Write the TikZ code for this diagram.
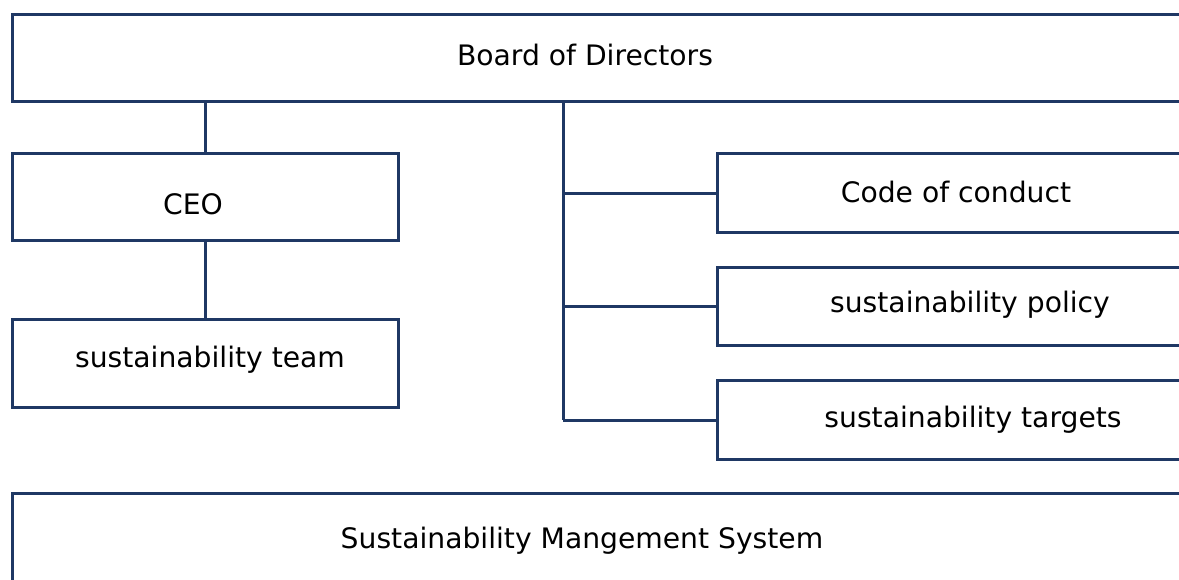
\documentclass[tikz,border=0pt]{standalone}
\usepackage{fontspec}
\setmainfont{DejaVu Sans}
\definecolor{navy}{RGB}{31,56,100}
\begin{document}
\begin{tikzpicture}[x=1pt,y=-1pt,
  box/.style={draw=navy,line width=3pt,rectangle,inner sep=0pt,anchor=north west},
  lbl/.style={anchor=base,inner sep=0pt,font=\fontsize{28.2}{32}\selectfont,text=black},
  conn/.style={draw=navy,line width=3pt}]
\useasboundingbox (0,0) rectangle (1179,579);
\clip (0,0) rectangle (1179,579);
% boxes
\node[box,minimum width=1250pt,minimum height=87pt] (board) at (11,13) {};
\node[box,minimum width=386pt,minimum height=87pt] (ceo) at (11,152) {};
\node[box,minimum width=386pt,minimum height=88pt] (team) at (11,318) {};
\node[box,minimum width=600pt,minimum height=79pt] (code) at (716,152) {};
\node[box,minimum width=600pt,minimum height=78pt] (policy) at (716,266) {};
\node[box,minimum width=600pt,minimum height=79pt] (targets) at (716,379) {};
\node[box,minimum width=1250pt,minimum height=120pt] (sms) at (11,492) {};
% labels
\node[lbl] (tboard) at (585,65) {Board of Directors};
\node[lbl] (tceo) at (193,214) {CEO};
\node[lbl] (tteam) at (210,367) {sustainability team};
\node[lbl] (tcode) at (956,202) {Code of conduct};
\node[lbl] (tpolicy) at (970,312) {sustainability policy};
\node[lbl] (ttargets) at (973,427) {sustainability targets};
\node[lbl] (tsms) at (582,548) {Sustainability Mangement System};
% connectors
\coordinate (trunk) at (563,100);
\coordinate (tend) at (563,420);
\draw[conn] (ceo.north |- board.south) -- (ceo.north);
\draw[conn] (ceo.south) -- (team.north);
\draw[conn] (trunk) -- (tend);
\draw[conn] (code.west -| trunk) -- (code.west);
\draw[conn] (policy.west -| trunk) -- (policy.west);
\draw[conn] (tend) -- (tend -| targets.west);
\end{tikzpicture}
\end{document}
